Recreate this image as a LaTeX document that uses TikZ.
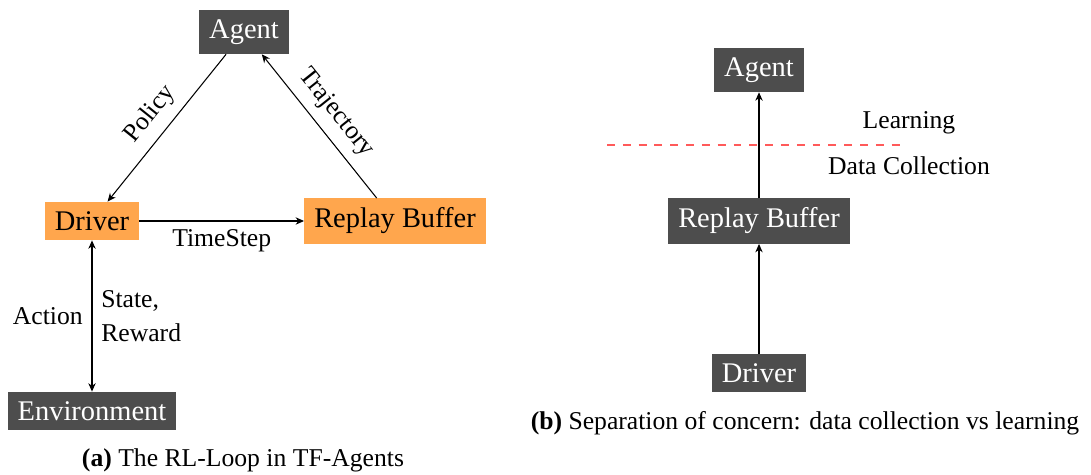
\documentclass[tikz,border=0pt]{standalone}
\usepackage{fontspec}
\setmainfont{Liberation Serif}
\usetikzlibrary{arrows.meta}
\definecolor{boxdark}{HTML}{4D4D4D}
\definecolor{boxorange}{HTML}{FFA64D}
\definecolor{splitred}{HTML}{FF5A5A}
\newcommand{\boxfont}{\fontsize{16.2}{19.4}\selectfont}
\newcommand{\labfont}{\fontsize{14.6}{19.3}\selectfont}
\begin{document}
\begin{tikzpicture}[x=0.02cm,y=-0.02cm,
  darkbox/.style={fill=boxdark,text=white,inner xsep=5.6pt,inner ysep=5.4pt,font=\boxfont},
  orangebox/.style={fill=boxorange,text=black,inner xsep=5.6pt,inner ysep=5.4pt,font=\boxfont},
  lab/.style={font=\labfont,text=black},
  flow/.style={-{Stealth[length=4.8pt,width=4.2pt]},line width=0.6pt},
  flowboth/.style={{Stealth[length=4.8pt,width=4.2pt]}-{Stealth[length=4.8pt,width=4.2pt]},line width=0.6pt},
  splitline/.style={splitred,line width=0.6pt,dash pattern=on 4.5pt off 4.5pt}]
\path[use as bounding box] (0,0) rectangle (1091,475);

% (a) the RL loop
\node[darkbox]   (agentA)  at (244,32)  {Agent};
\node[orangebox] (driverA) at (92,221)  {Driver};
\node[orangebox] (bufferA) at (395,221) {Replay Buffer};
\node[darkbox]   (envA)    at (92,411)  {Environment};

\draw[flow] (agentA) -- node[lab,sloped,above=2pt,pos=0.5] {Policy} (driverA);
\draw[flow] (bufferA) -- node[lab,sloped,above=2pt,pos=0.5] {Trajectory} (agentA);
\draw[flow] (driverA) -- node[lab,below=1.5pt] {TimeStep} (bufferA);
\draw[flowboth] (driverA.south) -- node[lab,left,inner sep=5pt] {Action}
  node[lab,right,align=left,inner sep=5pt] {State,\\Reward} (envA.north);

\node[lab] (capA) at (243,460) {\textbf{(a)} The RL-Loop in TF-Agents};

% (b) data collection vs learning
\node[darkbox] (agentB)  at (759,70)  {Agent};
\node[darkbox] (bufferB) at (759,221) {Replay Buffer};
\node[darkbox] (driverB) at (759,373) {Driver};

\draw[flow] (driverB) -- (bufferB);
\draw[flow] (bufferB) -- (agentB);

\coordinate (splitL) at (607,145);
\coordinate (splitR) at (906,145);
\draw[splitline] (splitL) -- (splitR);
\node[lab] (learn)   at (909,123) {Learning};
\node[lab] (collect) at (909,166) {Data Collection};

\node[lab] (capB) at (805,423) {\textbf{(b)} Separation of concern: data collection vs learning};
\end{tikzpicture}
\end{document}
